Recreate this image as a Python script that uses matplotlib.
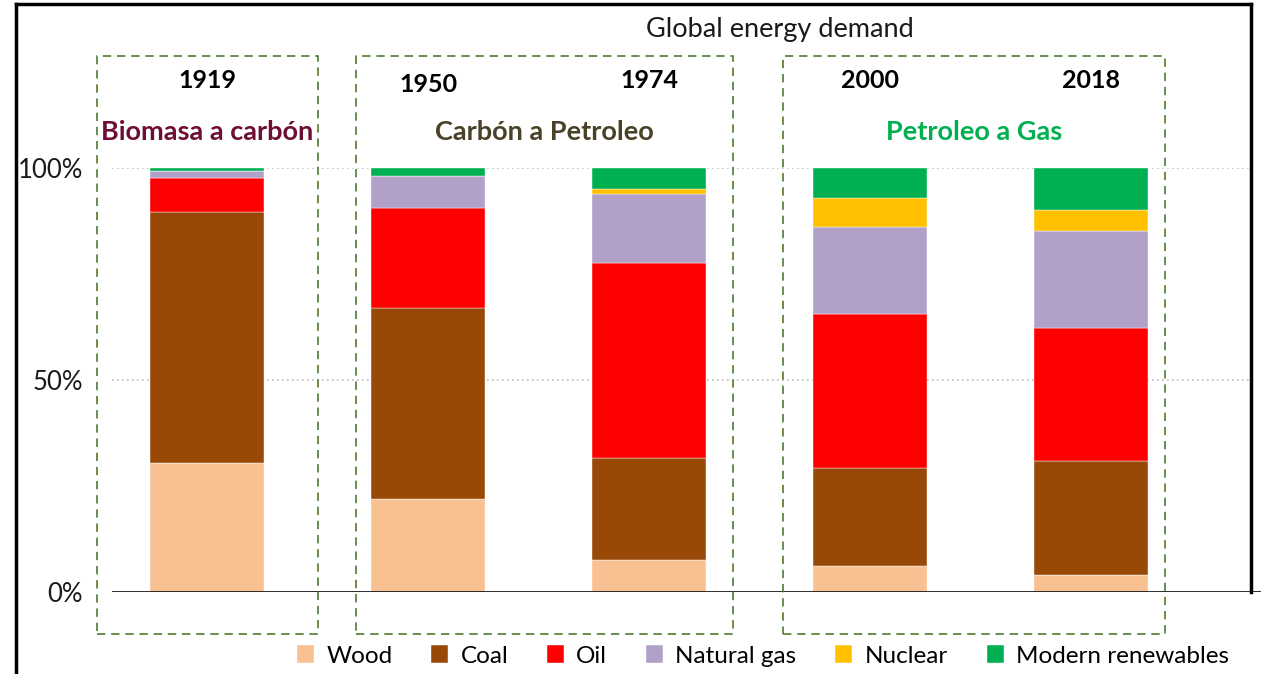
import matplotlib.pyplot as plt
from matplotlib.patches import Rectangle
from matplotlib.lines import Line2D
import numpy as np

# === Datos (% de la demanda global de energía) ===
anios = ["1919", "1950", "1974", "2000", "2018"]
fuentes = ["Wood", "Coal", "Oil", "Natural gas", "Nuclear", "Modern renewables"]
wood = [30.5, 22.0, 7.5, 6.1, 4.0]
coal = [59.1, 45.0, 24.1, 23.1, 26.9]
oil = [8.0, 23.6, 46.0, 36.4, 31.4]
gas = [1.6, 7.5, 16.3, 20.6, 22.8]
nuclear = [0.0, 0.0, 1.2, 6.7, 5.1]
renovables = [0.8, 1.9, 4.9, 7.1, 9.8]

etapas = ["Biomasa a carbón", "Carbón a Petroleo", "Petroleo a Gas"]

colores = ["#F9C191", "#984807", "#FF0000", "#B1A0C7", "#FFC000", "#00B050"]
colores_etapas = ["#6E0E34", "#4A4129", "#00B050"]

plt.rcParams["font.family"] = ["Lato", "DejaVu Sans"]

fig = plt.figure(figsize=(12.61, 6.74), dpi=100)
ax = fig.add_axes([112 / 1261, 82 / 674, 1150 / 1261, 424 / 674])

x = np.arange(len(anios))
series = [wood, coal, oil, gas, nuclear, renovables]
base = np.zeros(len(anios))
for valores, nombre, color in zip(series, fuentes, colores):
    ax.bar(x, valores, bottom=base, width=0.516, color=color, label=nombre,
           edgecolor="white", linewidth=0.3)
    base += np.array(valores)

# limites: izquierda en el inicio del eje (px 112), derecha al borde
ax.set_xlim((112 - 207) / 221, (1262 - 207) / 221)
ax.set_ylim(0, 100)

# rejilla punteada y linea del cero
for yv in [50, 100]:
    ax.axhline(yv, xmax=(1250 - 112) / 1150, color="#BDBDBD", linestyle=(0, (1, 2)),
               linewidth=1.2, zorder=0)
ax.axhline(0, color="#1a1a1a", linewidth=2.0, zorder=3)

ax.set_yticks([0, 50, 100])
ax.set_yticklabels(["0%", "50%", "100%"], fontsize=18.5, color="#1a1a1a")
ax.tick_params(axis="y", length=0, pad=21)
ax.set_xticks([])
for s in ax.spines.values():
    s.set_visible(False)

# cajas punteadas de las etapas (indices de barras y margenes)
grupos = [(0, 0, 0.50, 0.50), (1, 2, 0.326, 0.38), (3, 4, 0.393, 0.335)]
for (ini, fin, mi, md), etiqueta, col in zip(grupos, etapas, colores_etapas):
    x0 = ini - mi
    x1 = fin + md
    ax.add_patch(Rectangle((x0, -9.9), x1 - x0, 136.3, fill=False,
                           edgecolor="#4E7A30", linestyle=(0, (5, 3.5)),
                           linewidth=1.2, clip_on=False, zorder=4))
    ax.text((x0 + x1) / 2, 108.5, etiqueta, ha="center", va="center",
            fontsize=19.5, fontweight="bold", color=col, clip_on=False)

# años
desfase = [0, -1.0, 0, 0, 0]
for xi, anio, d in zip(x, anios, desfase):
    ax.text(xi, 120.7 + d, anio, ha="center", va="center", fontsize=18,
            fontweight="bold", color="black")

fig.text(780 / 1261, 1 - 29 / 674, "Global energy demand", ha="center", va="center",
         fontsize=19.5, color="#1a1a1a")

# leyenda
fig.legend(loc="center", bbox_to_anchor=(763 / 1261, 1 - 656 / 674), ncol=6,
           frameon=False, fontsize=17.5, handlelength=0.7, handleheight=0.7,
           handletextpad=0.5, columnspacing=1.6, borderpad=0)

# marco negro
fig.add_artist(Line2D([16 / 1261, 1251 / 1261], [1 - 4 / 674, 1 - 4 / 674],
                      color="black", linewidth=2.5, transform=fig.transFigure))
fig.add_artist(Line2D([16 / 1261, 16 / 1261], [0, 1 - 4 / 674],
                      color="black", linewidth=2.5, transform=fig.transFigure))
fig.add_artist(Line2D([1251 / 1261, 1251 / 1261], [1 - 592 / 674, 1 - 4 / 674],
                      color="black", linewidth=2.5, transform=fig.transFigure))

fig.savefig("out.png", dpi=100)
